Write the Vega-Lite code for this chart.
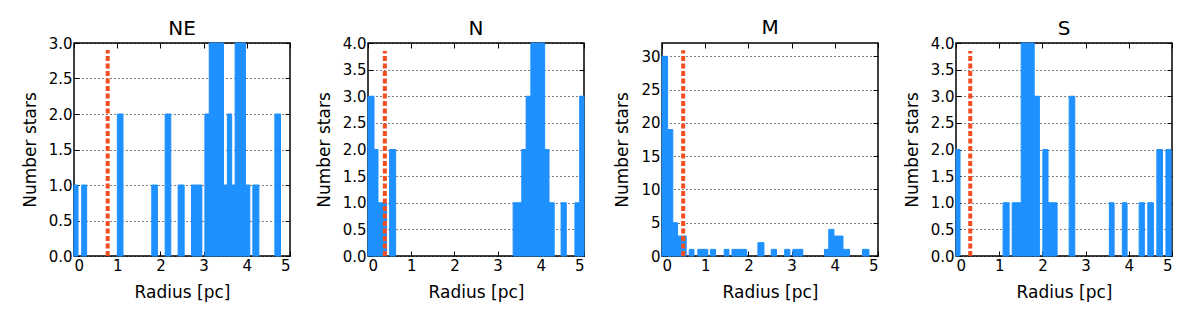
{
  "$schema": "https://vega.github.io/schema/vega-lite/v6.json",
  "padding": {"left": 20, "top": 16, "right": 5, "bottom": 5},
  "background": "white",
  "bounds": "flush",
  "spacing": 78,
  "datasets": {
    "bars": [
      {"p": "NE", "r0": 0.0, "r1": 0.093, "n": 1},
      {"p": "NE", "r0": 0.178, "r1": 0.293, "n": 1},
      {"p": "NE", "r0": 1.003, "r1": 1.134, "n": 2},
      {"p": "NE", "r0": 1.8, "r1": 1.93, "n": 1},
      {"p": "NE", "r0": 2.11, "r1": 2.24, "n": 2},
      {"p": "NE", "r0": 2.41, "r1": 2.55, "n": 1},
      {"p": "NE", "r0": 2.72, "r1": 2.84, "n": 1},
      {"p": "NE", "r0": 2.84, "r1": 2.96, "n": 1},
      {"p": "NE", "r0": 3.03, "r1": 3.13, "n": 2},
      {"p": "NE", "r0": 3.13, "r1": 3.24, "n": 3},
      {"p": "NE", "r0": 3.24, "r1": 3.35, "n": 3},
      {"p": "NE", "r0": 3.35, "r1": 3.46, "n": 3},
      {"p": "NE", "r0": 3.46, "r1": 3.55, "n": 1},
      {"p": "NE", "r0": 3.55, "r1": 3.65, "n": 2},
      {"p": "NE", "r0": 3.65, "r1": 3.73, "n": 1},
      {"p": "NE", "r0": 3.73, "r1": 3.85, "n": 3},
      {"p": "NE", "r0": 3.85, "r1": 3.97, "n": 3},
      {"p": "NE", "r0": 3.97, "r1": 4.07, "n": 1},
      {"p": "NE", "r0": 4.14, "r1": 4.28, "n": 1},
      {"p": "NE", "r0": 4.65, "r1": 4.78, "n": 2},
      {"p": "N", "r0": 0.0, "r1": 0.139, "n": 3},
      {"p": "N", "r0": 0.139, "r1": 0.231, "n": 2},
      {"p": "N", "r0": 0.231, "r1": 0.33, "n": 1},
      {"p": "N", "r0": 0.33, "r1": 0.43, "n": 1},
      {"p": "N", "r0": 0.5, "r1": 0.64, "n": 2},
      {"p": "N", "r0": 3.36, "r1": 3.46, "n": 1},
      {"p": "N", "r0": 3.46, "r1": 3.56, "n": 1},
      {"p": "N", "r0": 3.56, "r1": 3.66, "n": 2},
      {"p": "N", "r0": 3.66, "r1": 3.77, "n": 3},
      {"p": "N", "r0": 3.77, "r1": 3.88, "n": 4},
      {"p": "N", "r0": 3.88, "r1": 3.98, "n": 4},
      {"p": "N", "r0": 3.98, "r1": 4.09, "n": 4},
      {"p": "N", "r0": 4.09, "r1": 4.19, "n": 2},
      {"p": "N", "r0": 4.19, "r1": 4.31, "n": 1},
      {"p": "N", "r0": 4.47, "r1": 4.59, "n": 1},
      {"p": "N", "r0": 4.79, "r1": 4.9, "n": 1},
      {"p": "N", "r0": 4.9, "r1": 5.0, "n": 3},
      {"p": "M", "r0": 0.0, "r1": 0.13, "n": 30},
      {"p": "M", "r0": 0.13, "r1": 0.25, "n": 19},
      {"p": "M", "r0": 0.25, "r1": 0.36, "n": 5},
      {"p": "M", "r0": 0.36, "r1": 0.46, "n": 3},
      {"p": "M", "r0": 0.46, "r1": 0.56, "n": 3},
      {"p": "M", "r0": 0.63, "r1": 0.74, "n": 1},
      {"p": "M", "r0": 0.83, "r1": 0.945, "n": 1},
      {"p": "M", "r0": 0.945, "r1": 1.06, "n": 1},
      {"p": "M", "r0": 1.12, "r1": 1.24, "n": 1},
      {"p": "M", "r0": 1.44, "r1": 1.55, "n": 1},
      {"p": "M", "r0": 1.62, "r1": 1.73, "n": 1},
      {"p": "M", "r0": 1.73, "r1": 1.85, "n": 1},
      {"p": "M", "r0": 1.85, "r1": 1.96, "n": 1},
      {"p": "M", "r0": 2.22, "r1": 2.36, "n": 2},
      {"p": "M", "r0": 2.53, "r1": 2.65, "n": 1},
      {"p": "M", "r0": 2.84, "r1": 2.96, "n": 1},
      {"p": "M", "r0": 3.03, "r1": 3.145, "n": 1},
      {"p": "M", "r0": 3.145, "r1": 3.26, "n": 1},
      {"p": "M", "r0": 3.76, "r1": 3.86, "n": 1},
      {"p": "M", "r0": 3.86, "r1": 3.98, "n": 4},
      {"p": "M", "r0": 3.98, "r1": 4.085, "n": 3},
      {"p": "M", "r0": 4.085, "r1": 4.19, "n": 3},
      {"p": "M", "r0": 4.19, "r1": 4.34, "n": 1},
      {"p": "M", "r0": 4.64, "r1": 4.79, "n": 1},
      {"p": "S", "r0": 0.0, "r1": 0.093, "n": 2},
      {"p": "S", "r0": 1.09, "r1": 1.23, "n": 1},
      {"p": "S", "r0": 1.3, "r1": 1.4, "n": 1},
      {"p": "S", "r0": 1.4, "r1": 1.51, "n": 1},
      {"p": "S", "r0": 1.51, "r1": 1.61, "n": 4},
      {"p": "S", "r0": 1.61, "r1": 1.71, "n": 4},
      {"p": "S", "r0": 1.71, "r1": 1.81, "n": 4},
      {"p": "S", "r0": 1.81, "r1": 1.93, "n": 3},
      {"p": "S", "r0": 2.01, "r1": 2.13, "n": 2},
      {"p": "S", "r0": 2.13, "r1": 2.235, "n": 1},
      {"p": "S", "r0": 2.235, "r1": 2.34, "n": 1},
      {"p": "S", "r0": 2.62, "r1": 2.75, "n": 3},
      {"p": "S", "r0": 3.55, "r1": 3.66, "n": 1},
      {"p": "S", "r0": 3.85, "r1": 3.96, "n": 1},
      {"p": "S", "r0": 4.24, "r1": 4.36, "n": 1},
      {"p": "S", "r0": 4.44, "r1": 4.57, "n": 1},
      {"p": "S", "r0": 4.65, "r1": 4.78, "n": 2},
      {"p": "S", "r0": 4.86, "r1": 4.98, "n": 2}
    ],
    "cuts": [
      {"p": "NE", "r": 0.78, "y0": 0, "y1": 2.9},
      {"p": "N", "r": 0.39, "y0": 0, "y1": 3.85},
      {"p": "M", "r": 0.49, "y0": 0, "y1": 30.9},
      {"p": "S", "r": 0.33, "y0": 0, "y1": 3.85}
    ]
  },
  "hconcat": [
    {
      "title": {"text": "NE", "offset": -3},
      "width": 216, "height": 213,
      "layer": [
        {
          "data": {"name": "bars"},
          "transform": [{"filter": "datum.p === 'NE'"}],
          "mark": {"type": "bar", "color": "#1E90FF", "stroke": "#1E90FF", "strokeWidth": 1},
          "encoding": {
            "x": {"field": "r0", "type": "quantitative", "scale": {"domain": [0, 5], "nice": false, "zero": false, "padding": 0}, "axis": {"title": "Radius [pc]", "values": [0, 1, 2, 3, 4, 5], "format": "d"}},
            "x2": {"field": "r1"},
            "y": {"field": "n", "type": "quantitative", "scale": {"domain": [0, 3], "nice": false, "padding": 0}, "axis": {"title": "Number stars", "values": [0, 0.5, 1, 1.5, 2, 2.5, 3], "format": ".1f"}},
            "y2": {"datum": 0}
          }
        },
        {
          "data": {"name": "cuts"},
          "transform": [{"filter": "datum.p === 'NE'"}],
          "mark": {"type": "rule", "color": "#F24E1E", "strokeWidth": 4, "strokeDash": [5, 2.5]},
          "encoding": {
            "x": {"field": "r", "type": "quantitative", "axis": {"orient": "top", "labels": false, "title": null, "grid": false, "values": [0, 1, 2, 3, 4, 5]}},
            "y": {"field": "y0", "type": "quantitative", "axis": {"orient": "right", "labels": false, "title": null, "grid": false, "values": [0, 0.5, 1, 1.5, 2, 2.5, 3]}},
            "y2": {"field": "y1"}
          }
        }
      ],
      "resolve": {"axis": {"x": "independent", "y": "independent"}}
    },
    {
      "title": {"text": "N", "offset": -3},
      "width": 216, "height": 213,
      "layer": [
        {
          "data": {"name": "bars"},
          "transform": [{"filter": "datum.p === 'N'"}],
          "mark": {"type": "bar", "color": "#1E90FF", "stroke": "#1E90FF", "strokeWidth": 1},
          "encoding": {
            "x": {"field": "r0", "type": "quantitative", "scale": {"domain": [0, 5], "nice": false, "zero": false, "padding": 0}, "axis": {"title": "Radius [pc]", "values": [0, 1, 2, 3, 4, 5], "format": "d"}},
            "x2": {"field": "r1"},
            "y": {"field": "n", "type": "quantitative", "scale": {"domain": [0, 4], "nice": false, "padding": 0}, "axis": {"title": "Number stars", "values": [0, 0.5, 1, 1.5, 2, 2.5, 3, 3.5, 4], "format": ".1f"}},
            "y2": {"datum": 0}
          }
        },
        {
          "data": {"name": "cuts"},
          "transform": [{"filter": "datum.p === 'N'"}],
          "mark": {"type": "rule", "color": "#F24E1E", "strokeWidth": 4, "strokeDash": [5, 2.5]},
          "encoding": {
            "x": {"field": "r", "type": "quantitative", "axis": {"orient": "top", "labels": false, "title": null, "grid": false, "values": [0, 1, 2, 3, 4, 5]}},
            "y": {"field": "y0", "type": "quantitative", "axis": {"orient": "right", "labels": false, "title": null, "grid": false, "values": [0, 0.5, 1, 1.5, 2, 2.5, 3, 3.5, 4]}},
            "y2": {"field": "y1"}
          }
        }
      ],
      "resolve": {"axis": {"x": "independent", "y": "independent"}}
    },
    {
      "title": {"text": "M", "offset": 5},
      "width": 216, "height": 213,
      "layer": [
        {
          "data": {"name": "bars"},
          "transform": [{"filter": "datum.p === 'M'"}],
          "mark": {"type": "bar", "color": "#1E90FF", "stroke": "#1E90FF", "strokeWidth": 1},
          "encoding": {
            "x": {"field": "r0", "type": "quantitative", "scale": {"domain": [0, 5], "nice": false, "zero": false, "padding": 0}, "axis": {"title": "Radius [pc]", "values": [0, 1, 2, 3, 4, 5], "format": "d"}},
            "x2": {"field": "r1"},
            "y": {"field": "n", "type": "quantitative", "scale": {"domain": [0, 32], "nice": false, "padding": 0}, "axis": {"title": "Number stars", "values": [0, 5, 10, 15, 20, 25, 30], "format": "d"}},
            "y2": {"datum": 0}
          }
        },
        {
          "data": {"name": "cuts"},
          "transform": [{"filter": "datum.p === 'M'"}],
          "mark": {"type": "rule", "color": "#F24E1E", "strokeWidth": 4, "strokeDash": [5, 2.5]},
          "encoding": {
            "x": {"field": "r", "type": "quantitative", "axis": {"orient": "top", "labels": false, "title": null, "grid": false, "values": [0, 1, 2, 3, 4, 5]}},
            "y": {"field": "y0", "type": "quantitative", "axis": {"orient": "right", "labels": false, "title": null, "grid": false, "values": [0, 5, 10, 15, 20, 25, 30]}},
            "y2": {"field": "y1"}
          }
        }
      ],
      "resolve": {"axis": {"x": "independent", "y": "independent"}}
    },
    {
      "title": {"text": "S", "offset": -3},
      "width": 216, "height": 213,
      "layer": [
        {
          "data": {"name": "bars"},
          "transform": [{"filter": "datum.p === 'S'"}],
          "mark": {"type": "bar", "color": "#1E90FF", "stroke": "#1E90FF", "strokeWidth": 1},
          "encoding": {
            "x": {"field": "r0", "type": "quantitative", "scale": {"domain": [0, 5], "nice": false, "zero": false, "padding": 0}, "axis": {"title": "Radius [pc]", "values": [0, 1, 2, 3, 4, 5], "format": "d"}},
            "x2": {"field": "r1"},
            "y": {"field": "n", "type": "quantitative", "scale": {"domain": [0, 4], "nice": false, "padding": 0}, "axis": {"title": "Number stars", "values": [0, 0.5, 1, 1.5, 2, 2.5, 3, 3.5, 4], "format": ".1f"}},
            "y2": {"datum": 0}
          }
        },
        {
          "data": {"name": "cuts"},
          "transform": [{"filter": "datum.p === 'S'"}],
          "mark": {"type": "rule", "color": "#F24E1E", "strokeWidth": 4, "strokeDash": [5, 2.5]},
          "encoding": {
            "x": {"field": "r", "type": "quantitative", "axis": {"orient": "top", "labels": false, "title": null, "grid": false, "values": [0, 1, 2, 3, 4, 5]}},
            "y": {"field": "y0", "type": "quantitative", "axis": {"orient": "right", "labels": false, "title": null, "grid": false, "values": [0, 0.5, 1, 1.5, 2, 2.5, 3, 3.5, 4]}},
            "y2": {"field": "y1"}
          }
        }
      ],
      "resolve": {"axis": {"x": "independent", "y": "independent"}}
    }
  ],
  "config": {
    "font": "DejaVu Sans",
    "view": {"stroke": "black", "strokeWidth": 1.5},
    "axis": {"labelFont": "DejaVu Sans", "titleFont": "DejaVu Sans", "labelFontSize": 15, "titleFontSize": 17, "titleFontWeight": "normal", "labelColor": "black", "titleColor": "black", "tickColor": "black", "tickSize": -5, "tickWidth": 1, "domain": false, "grid": false, "labelPadding": 7},
    "axisX": {"titlePadding": 11},
    "axisY": {"grid": true, "gridColor": "black", "gridDash": [1, 3], "gridOpacity": 1, "gridWidth": 1, "titlePadding": 9},
    "title": {"fontSize": 20, "fontWeight": "normal", "font": "DejaVu Sans", "color": "black", "frame": "group"}
  }
}
